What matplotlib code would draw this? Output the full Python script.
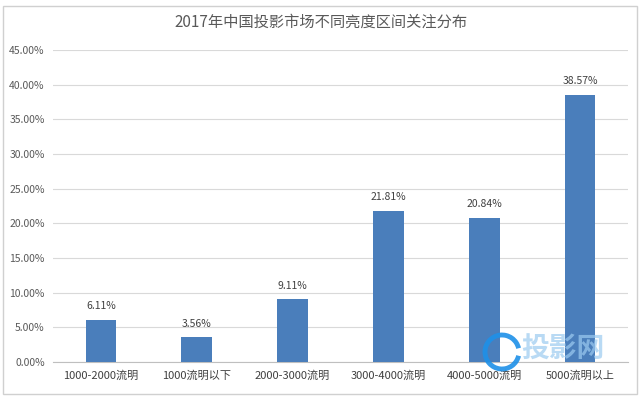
import matplotlib
matplotlib.use("Agg")
import matplotlib.pyplot as plt
from matplotlib.patches import Rectangle, Arc
import numpy as np

plt.rcParams['font.family'] = ['Noto Sans CJK SC', 'DejaVu Sans']

title = "2017年中国投影市场不同亮度区间关注分布"
categories = ["1000-2000流明", "1000流明以下", "2000-3000流明",
              "3000-4000流明", "4000-5000流明", "5000流明以上"]
values = [6.11, 3.56, 9.11, 21.81, 20.84, 38.57]
yticks = [0, 5, 10, 15, 20, 25, 30, 35, 40, 45]

fig = plt.figure(figsize=(6.42, 3.97), dpi=100)
ax = fig.add_axes([53/642, 35/397, 575/642, 312/397])

x = np.arange(len(categories))
ax.bar(x, values, width=0.32, color="#4A7EBB", zorder=3)
for xi, v in zip(x, values):
    ax.text(xi, v + 1.2, f"{v:.2f}%", ha="center", va="bottom",
            fontsize=7.5, color="#404040")

ax.set_xlim(-0.5, len(categories) - 0.5)
ax.set_ylim(0, 45)
ax.set_yticks(yticks)
ax.set_yticklabels([f"{t:.2f}%" for t in yticks], fontsize=7.5, color="#595959")
ax.set_xticks(x)
ax.set_xticklabels(categories, fontsize=8, color="#404040")
ax.tick_params(length=0, pad=6)
ax.yaxis.grid(True, color="#D9D9D9", linewidth=0.8, zorder=0)
for s in ["top", "right", "left"]:
    ax.spines[s].set_visible(False)
ax.spines["bottom"].set_color("#BFBFBF")

fig.text(0.5, 1 - 22/397, title, ha="center", va="center",
         fontsize=11, color="#595959")

# outer border of the chart
fig.patches.append(Rectangle((3/642, 3/397), 634/642, 388/397,
                             transform=fig.transFigure, fill=False,
                             edgecolor="#D0D0D0", linewidth=1))

# watermark
fig.patches.append(Arc((502/642, 1 - 352/397), 34/642, 34/397, theta1=20, theta2=340,
                       transform=fig.transFigure, edgecolor="#1E90E8",
                       linewidth=3.5, alpha=0.9))
fig.text(563/642, 1 - 350/397, "投影网", ha="center", va="center",
         fontsize=20, color="#9CCBF0", alpha=0.7, fontweight="bold")

fig.savefig("out.png", dpi=100)
